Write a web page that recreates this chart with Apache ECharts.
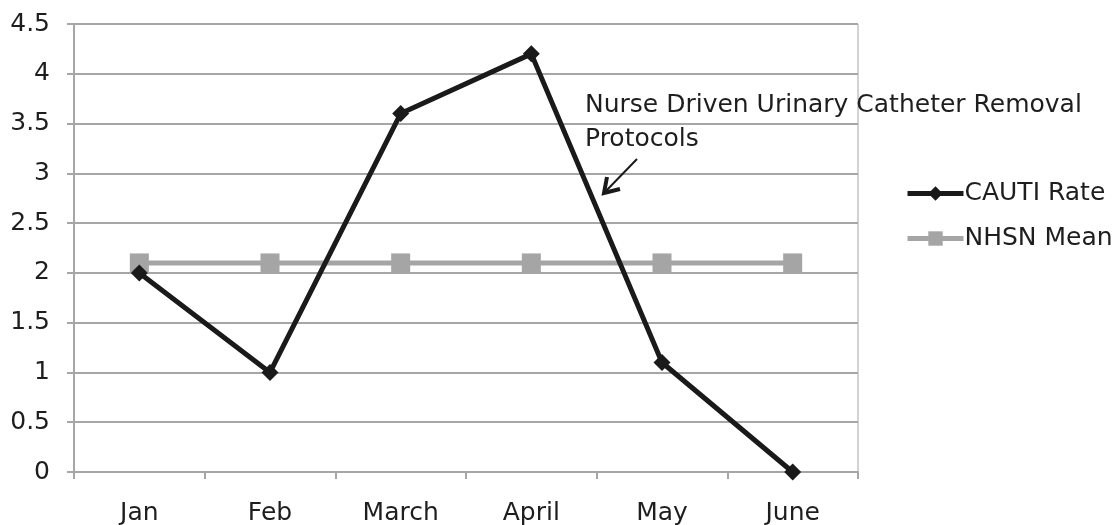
<!DOCTYPE html>
<html><head><meta charset="utf-8">
<script src="https://cdn.jsdelivr.net/npm/echarts@6/dist/echarts.min.js"></script>
<style>html,body{margin:0;padding:0;background:#fff}#c{width:1120px;height:525px}</style>
</head><body><div id="c"></div>
<script>
const categories = ['Jan','Feb','March','April','May','June'];
const cautiRate = [2, 1, 3.6, 4.2, 1.1, 0];
const nhsnMean = [2.1, 2.1, 2.1, 2.1, 2.1, 2.1];
const yTicks = [0, 0.5, 1, 1.5, 2, 2.5, 3, 3.5, 4, 4.5];
const annotationText = 'Nurse Driven Urinary Catheter Removal\nProtocols';

const FONT = '"DejaVu Sans", sans-serif';
const FS = 25;
const chart = echarts.init(document.getElementById('c'));
chart.setOption({
  animation: false,
  textStyle: {fontFamily: FONT},
  grid: {left: 74, right: 262, top: 24, bottom: 53, containLabel: false, outerBoundsMode: 'none', show: true, borderColor: '#a6a6a6', borderWidth: 1},
  legend: {
    orient: 'vertical', left: 900, top: 176, itemWidth: 56, itemHeight: 18, itemGap: 20,
    textStyle: {fontSize: FS, color: '#1e1e1e', fontFamily: FONT, padding: [0,0,0,-4]},
    data: [
      {name: 'CAUTI Rate', lineStyle: {width: 5}},
      {name: 'NHSN Mean', lineStyle: {width: 5}}
    ]
  },
  xAxis: {
    type: 'category', data: categories, boundaryGap: true,
    axisLine: {lineStyle: {color: '#a6a6a6', width: 2}},
    axisTick: {show: true, length: 7, lineStyle: {color: '#a6a6a6', width: 2}},
    axisLabel: {fontSize: FS, color: '#1e1e1e', margin: 29, fontFamily: FONT}
  },
  yAxis: {
    type: 'value', min: 0, max: yTicks[yTicks.length-1], interval: 0.5,
    axisLine: {show: true, lineStyle: {color: '#a6a6a6', width: 2}},
    axisTick: {show: true, length: 7, lineStyle: {color: '#a6a6a6', width: 2}},
    axisLabel: {fontSize: FS, color: '#1e1e1e', margin: 24, fontFamily: FONT},
    splitLine: {lineStyle: {color: '#a6a6a6', width: 2}}
  },
  series: [
    {name: 'CAUTI Rate', type: 'line', data: cautiRate, symbol: 'diamond', symbolSize: 17,
     lineStyle: {color: '#1a1a1a', width: 5}, itemStyle: {color: '#1a1a1a'}, z: 3},
    {name: 'NHSN Mean', type: 'line', data: nhsnMean, symbol: 'rect', symbolSize: 19,
     lineStyle: {color: '#a5a5a5', width: 5}, itemStyle: {color: '#a5a5a5'}, z: 2}
  ],
  graphic: [
    {type: 'text', left: 585, top: 88, style: {text: annotationText, fontSize: FS, lineHeight: 34, fill: '#1e1e1e', fontFamily: FONT}, z: 10},
    {type: 'line', shape: {x1: 637, y1: 159, x2: 605, y2: 192}, style: {stroke: '#1a1a1a', lineWidth: 2}, z: 10},
    {type: 'polyline', shape: {points: [[607, 177], [604, 193], [620, 189]]}, style: {stroke: '#1a1a1a', lineWidth: 4, fill: null, lineJoin: 'miter'}, z: 10}
  ]
});
</script></body></html>
